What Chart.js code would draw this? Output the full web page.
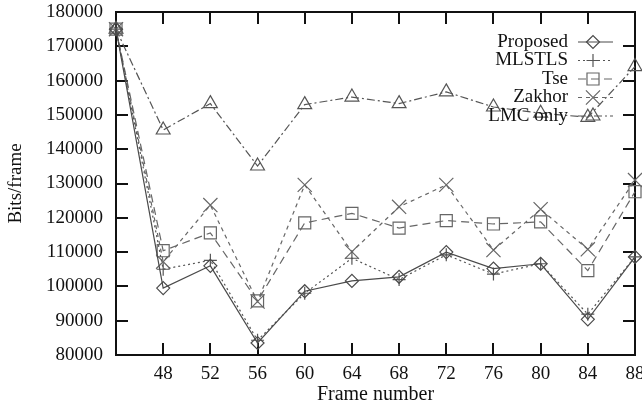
<!DOCTYPE html>
<html>
<head>
<meta charset="utf-8">
<script src="https://cdn.jsdelivr.net/npm/chart.js@4/dist/chart.umd.min.js"></script>
<style>
  html, body { margin: 0; padding: 0; background: #fff; overflow: hidden; }
  #wrap { position: relative; width: 660px; height: 420px; }
</style>
</head>
<body>
<div id="wrap"><canvas id="c" width="660" height="420"></canvas></div>
<script>
// Frame numbers along the x axis
const frames = [44, 48, 52, 56, 60, 64, 68, 72, 76, 80, 84, 88];

// Bits per frame for each coding method
const proposed = [175000, 99500, 106000, 83500, 98600, 101600, 102800, 110000, 105200, 106600, 90400, 108600];
const mlstls   = [175000, 105000, 107600, 84300, 98000, 108200, 102000, 109200, 103600, 106600, 91900, 108600];
const tse      = [175000, 110400, 115600, 95800, 118500, 121300, 117000, 119200, 118200, 118800, 104600, 127600];
const zakhor   = [175000, 107200, 123700, 95600, 129600, 110100, 123200, 129600, 110600, 122500, 110800, 131000];
const lmcOnly  = [175000, 145600, 153300, 135100, 153000, 155200, 153300, 156700, 152300, 150500, 149300, 164100];

// Axis tick values
const xTicks = [48, 52, 56, 60, 64, 68, 72, 76, 80, 84, 88];
const yTicks = [80000, 90000, 100000, 110000, 120000, 130000, 140000, 150000, 160000, 170000, 180000];

const FONT = '"Liberation Serif", "Times New Roman", serif';
const INK = '#111';

const toPoints = vals => frames.map((f, i) => ({ x: f, y: vals[i] }));

function series(label, vals, color, dash, style, radius) {
  return {
    label,
    data: toPoints(vals),
    borderColor: color,
    borderWidth: 1.2,
    borderDash: dash,
    tension: 0,
    fill: false,
    clip: false,
    pointStyle: style,
    pointRadius: radius,
    pointHoverRadius: radius,
    pointBorderWidth: 1.2,
    pointBorderColor: color,
    pointBackgroundColor: 'rgba(0,0,0,0)'
  };
}

// Gnuplot-style box with inward ticks on all four sides
const framePlugin = {
  id: 'frameBox',
  beforeDatasetsDraw(chart) {
    const { ctx, chartArea: a, scales } = chart;
    const len = 12;
    ctx.save();
    ctx.strokeStyle = INK;
    ctx.lineWidth = 2;
    ctx.strokeRect(a.left, a.top, a.right - a.left, a.bottom - a.top);
    ctx.beginPath();
    xTicks.forEach(v => {
      const px = Math.round(scales.x.getPixelForValue(v));
      ctx.moveTo(px, a.bottom); ctx.lineTo(px, a.bottom - len);
      ctx.moveTo(px, a.top); ctx.lineTo(px, a.top + len);
    });
    yTicks.forEach(v => {
      const py = Math.round(scales.y.getPixelForValue(v));
      ctx.moveTo(a.left, py); ctx.lineTo(a.left + len, py);
      ctx.moveTo(a.right, py); ctx.lineTo(a.right - len, py);
    });
    ctx.stroke();
    ctx.restore();
  }
};

// Key in the upper right: right-aligned label, then a line sample with its marker
const keyPlugin = {
  id: 'keyBox',
  afterDraw(chart) {
    const { ctx, chartArea: a } = chart;
    const textRight = a.right - 67;
    const lineL = a.right - 57, lineR = a.right - 22;
    const top = a.top + 30, step = 18.5;
    chart.data.datasets.forEach((ds, i) => {
      const y = top + i * step;
      ctx.save();
      ctx.font = '19px ' + FONT;
      ctx.fillStyle = INK;
      ctx.textAlign = 'right';
      ctx.textBaseline = 'middle';
      ctx.fillText(ds.label, textRight, y);
      ctx.strokeStyle = ds.borderColor;
      ctx.lineWidth = ds.borderWidth;
      ctx.setLineDash(ds.borderDash || []);
      ctx.beginPath();
      ctx.moveTo(lineL, y);
      ctx.lineTo(lineR, y);
      ctx.stroke();
      ctx.setLineDash([]);
      ctx.fillStyle = 'rgba(0,0,0,0)';
      ctx.strokeStyle = ds.pointBorderColor;
      ctx.lineWidth = ds.pointBorderWidth;
      Chart.helpers.drawPoint(ctx, {
        pointStyle: ds.pointStyle,
        radius: ds.pointRadius,
        borderWidth: ds.pointBorderWidth,
        rotation: 0
      }, lineL + 15, y);
      ctx.restore();
    });
  }
};

new Chart(document.getElementById('c'), {
  type: 'line',
  data: {
    datasets: [
      series('Proposed', proposed, '#4a4a4a', [], 'rectRot', 6.5),
      series('MLSTLS', mlstls, '#555', [2, 3], 'cross', 6.5),
      series('Tse', tse, '#666', [8, 5], 'rect', 8.5),
      series('Zakhor', zakhor, '#666', [4, 4], 'crossRot', 10),
      series('LMC only', lmcOnly, '#555', [8, 3, 2, 3], 'triangle', 8)
    ]
  },
  options: {
    responsive: false,
    animation: false,
    devicePixelRatio: 1,
    layout: { padding: { top: 12, right: 25, left: 0, bottom: 0 } },
    plugins: {
      legend: { display: false },
      tooltip: { enabled: false }
    },
    scales: {
      x: {
        type: 'linear',
        min: 44,
        max: 88,
        afterBuildTicks: s => { s.ticks = xTicks.map(v => ({ value: v })); },
        ticks: {
          font: { family: FONT, size: 19 },
          color: INK,
          padding: 8,
          maxRotation: 0,
          autoSkip: false
        },
        grid: { display: false, drawTicks: false },
        border: { display: false },
        title: {
          display: true,
          text: 'Frame number',
          font: { family: FONT, size: 20 },
          color: INK,
          padding: { top: 0, bottom: 13 }
        },
        afterFit: s => { s.height = 65; s.paddingLeft = 0; s.paddingRight = 0; }
      },
      y: {
        type: 'linear',
        min: 80000,
        max: 180000,
        afterBuildTicks: s => { s.ticks = yTicks.map(v => ({ value: v })); },
        ticks: {
          font: { family: FONT, size: 19 },
          color: INK,
          padding: 13,
          callback: v => String(v)
        },
        grid: { display: false, drawTicks: false },
        border: { display: false },
        title: {
          display: true,
          text: 'Bits/frame',
          font: { family: FONT, size: 19 },
          color: INK,
          padding: { top: 4.6, bottom: 0 }
        },
        afterFit: s => { s.width = 116; s.paddingTop = 0; s.paddingBottom = 0; }
      }
    }
  },
  plugins: [framePlugin, keyPlugin]
});
</script>
</body>
</html>
